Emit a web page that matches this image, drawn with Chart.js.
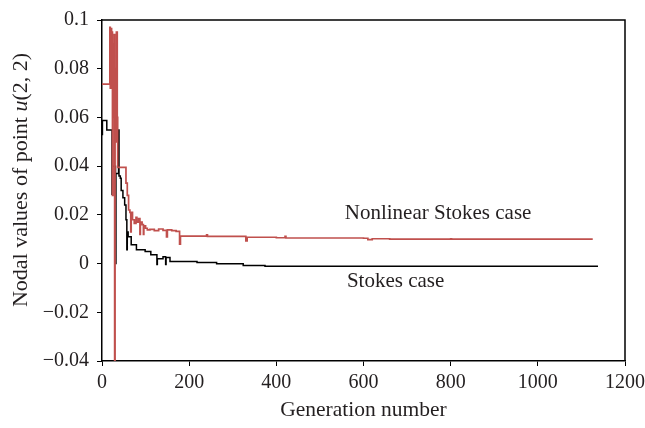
<!DOCTYPE html>
<html>
<head>
<meta charset="utf-8">
<script src="https://cdn.jsdelivr.net/npm/chart.js@4"></script>
<style>
body{margin:0;background:#fff}
</style>
</head>
<body>
<canvas id="myChart" width="645" height="428"></canvas>
<script>
// Nonlinear Stokes case (red line)
var nl_gen = [0, 18, 19, 21, 22, 23, 24, 25, 27, 28, 29, 30, 31, 33, 35, 36,
    55, 58, 61, 64, 66, 67, 70, 74, 78, 80, 84, 87, 88, 92, 95, 96, 100, 104, 110, 120, 130, 140,
    148, 150, 160, 170, 178, 180, 240, 242, 330, 333, 400, 420, 422, 600, 610, 620, 660, 800, 802, 1126]
var nl_val = [0.0737, 0.097, 0.072, 0.0965, 0.085, 0.095, 0.028, 0.09, 0.06, 0.094, -0.04, 0.08, 0.05, 0.095, 0.06, 0.0395,
    0.033, 0.028, 0.022, 0.021, 0.013, 0.021, 0.018, 0.0165, 0.019, 0.017, 0.0185, 0.012, 0.017, 0.016, 0.012, 0.0155, 0.0145, 0.0138, 0.014, 0.0135, 0.0142, 0.0136,
    0.011, 0.0138, 0.0135, 0.0132, 0.008, 0.0113, 0.0118, 0.0112, 0.0093, 0.0108, 0.0106, 0.0112, 0.0105, 0.0104, 0.0098, 0.0102, 0.01, 0.0101, 0.01, 0.01]

// Stokes case (black line)
var st_gen = [0, 1, 11, 23, 24, 31, 32, 38, 39, 42, 44, 48, 52, 55, 57, 58, 60, 67, 79, 99, 112,
    126, 127, 140, 146, 147, 156, 218, 263, 324, 374, 1138]
var st_val = [0.053, 0.0587, 0.0548, 0.0285, 0.04, 0.0, 0.037, 0.0548, 0.036, 0.035, 0.03, 0.027, 0.024, 0.018, 0.0057, 0.013, 0.011, 0.0077, 0.0057, 0.005, 0.0036,
    -0.0004, 0.002, 0.0028, -0.0004, 0.0025, 0.0008, 0.0004, -0.0001, -0.0008, -0.0011, -0.0011]

var x_min = 0, x_max = 1200, x_step = 200
var y_min = -0.04, y_max = 0.1, y_step = 0.02

var serif = "'Liberation Serif', 'Times New Roman', serif"
var txt = '#231f20'

function toPoints(xs, ys){
    var pts = []
    for(var i = 0 ; i < xs.length ; i++){
        pts.push({x: xs[i], y: ys[i]})
    }
    return pts
}

// outer box, axis titles and the two case labels
var labelPlugin = {
    id: 'labels',
    afterDraw: function(chart){
        var ctx = chart.ctx
        var a = chart.chartArea
        var sx = chart.scales.x, sy = chart.scales.y
        ctx.save()
        ctx.strokeStyle = '#000'
        ctx.lineWidth = 1.5
        ctx.beginPath()
        ctx.moveTo(a.left, a.top)
        ctx.lineTo(a.right, a.top)
        ctx.lineTo(a.right, a.bottom)
        ctx.stroke()

        ctx.fillStyle = txt
        ctx.font = '21.5px ' + serif
        ctx.textBaseline = 'middle'
        ctx.textAlign = 'center'
        ctx.fillText('Generation number', (a.left + a.right) / 2, 410)

        ctx.font = '21px ' + serif
        ctx.textAlign = 'left'
        ctx.fillText('Nonlinear Stokes case', sx.getPixelForValue(557), sy.getPixelForValue(0.0206))
        ctx.fillText('Stokes case', sx.getPixelForValue(562), sy.getPixelForValue(-0.0073))

        // y title, with italic u
        var parts = [['Nodal values of point ', 'normal'], ['u', 'italic'], ['(2, 2)', 'normal']]
        var total = 0
        for(var i = 0 ; i < parts.length ; i++){
            ctx.font = parts[i][1] + ' 22px ' + serif
            total += ctx.measureText(parts[i][0]).width
        }
        ctx.translate(21, 180)
        ctx.rotate(-Math.PI / 2)
        var px = -total / 2
        for(var i = 0 ; i < parts.length ; i++){
            ctx.font = parts[i][1] + ' 22px ' + serif
            ctx.fillText(parts[i][0], px, 0)
            px += ctx.measureText(parts[i][0]).width
        }
        ctx.restore()
    }
}

var ctx = document.getElementById('myChart').getContext('2d')
var chart1 = new Chart(ctx, {
    type: 'line',
    plugins: [labelPlugin],
    data: {
        datasets: [{
            label: 'Nonlinear Stokes case',
            data: toPoints(nl_gen, nl_val),
            borderColor: 'rgb(192,80,77)',
            borderWidth: 1.7,
            pointRadius: 0,
            stepped: true
        }, {
            label: 'Stokes case',
            data: toPoints(st_gen, st_val),
            borderColor: '#000',
            borderWidth: 1.5,
            pointRadius: 0,
            stepped: true
        }]
    },
    options: {
        responsive: false,
        animation: false,
        devicePixelRatio: 1,
        layout: {
            padding: {top: 15, right: 0, left: 0, bottom: 0}
        },
        plugins: {
            legend: {display: false},
            tooltip: {enabled: false}
        },
        scales: {
            x: {
                type: 'linear',
                min: x_min,
                max: x_max,
                afterFit: function(s){
                    s.height = 67
                    s.paddingRight = 20
                    s.paddingLeft = 0
                },
                border: {color: '#000', width: 1.5},
                grid: {
                    drawOnChartArea: false,
                    color: '#000',
                    tickLength: 5
                },
                ticks: {
                    stepSize: x_step,
                    color: txt,
                    padding: 5,
                    maxRotation: 0,
                    font: {family: serif, size: 20},
                    callback: function(v){ return String(v) }
                }
            },
            y: {
                min: y_min,
                max: y_max,
                afterFit: function(s){ s.width = 102 },
                border: {color: '#000', width: 1.5},
                grid: {
                    drawOnChartArea: false,
                    color: '#000',
                    tickLength: 5
                },
                ticks: {
                    stepSize: y_step,
                    color: txt,
                    padding: 8,
                    font: {family: serif, size: 20},
                    callback: function(v){
                        var r = Math.round(v * 100) / 100
                        if(r === 0) return '0'
                        return String(r).replace('-', '\u2212')
                    }
                }
            }
        }
    }
})
</script>
</body>
</html>
